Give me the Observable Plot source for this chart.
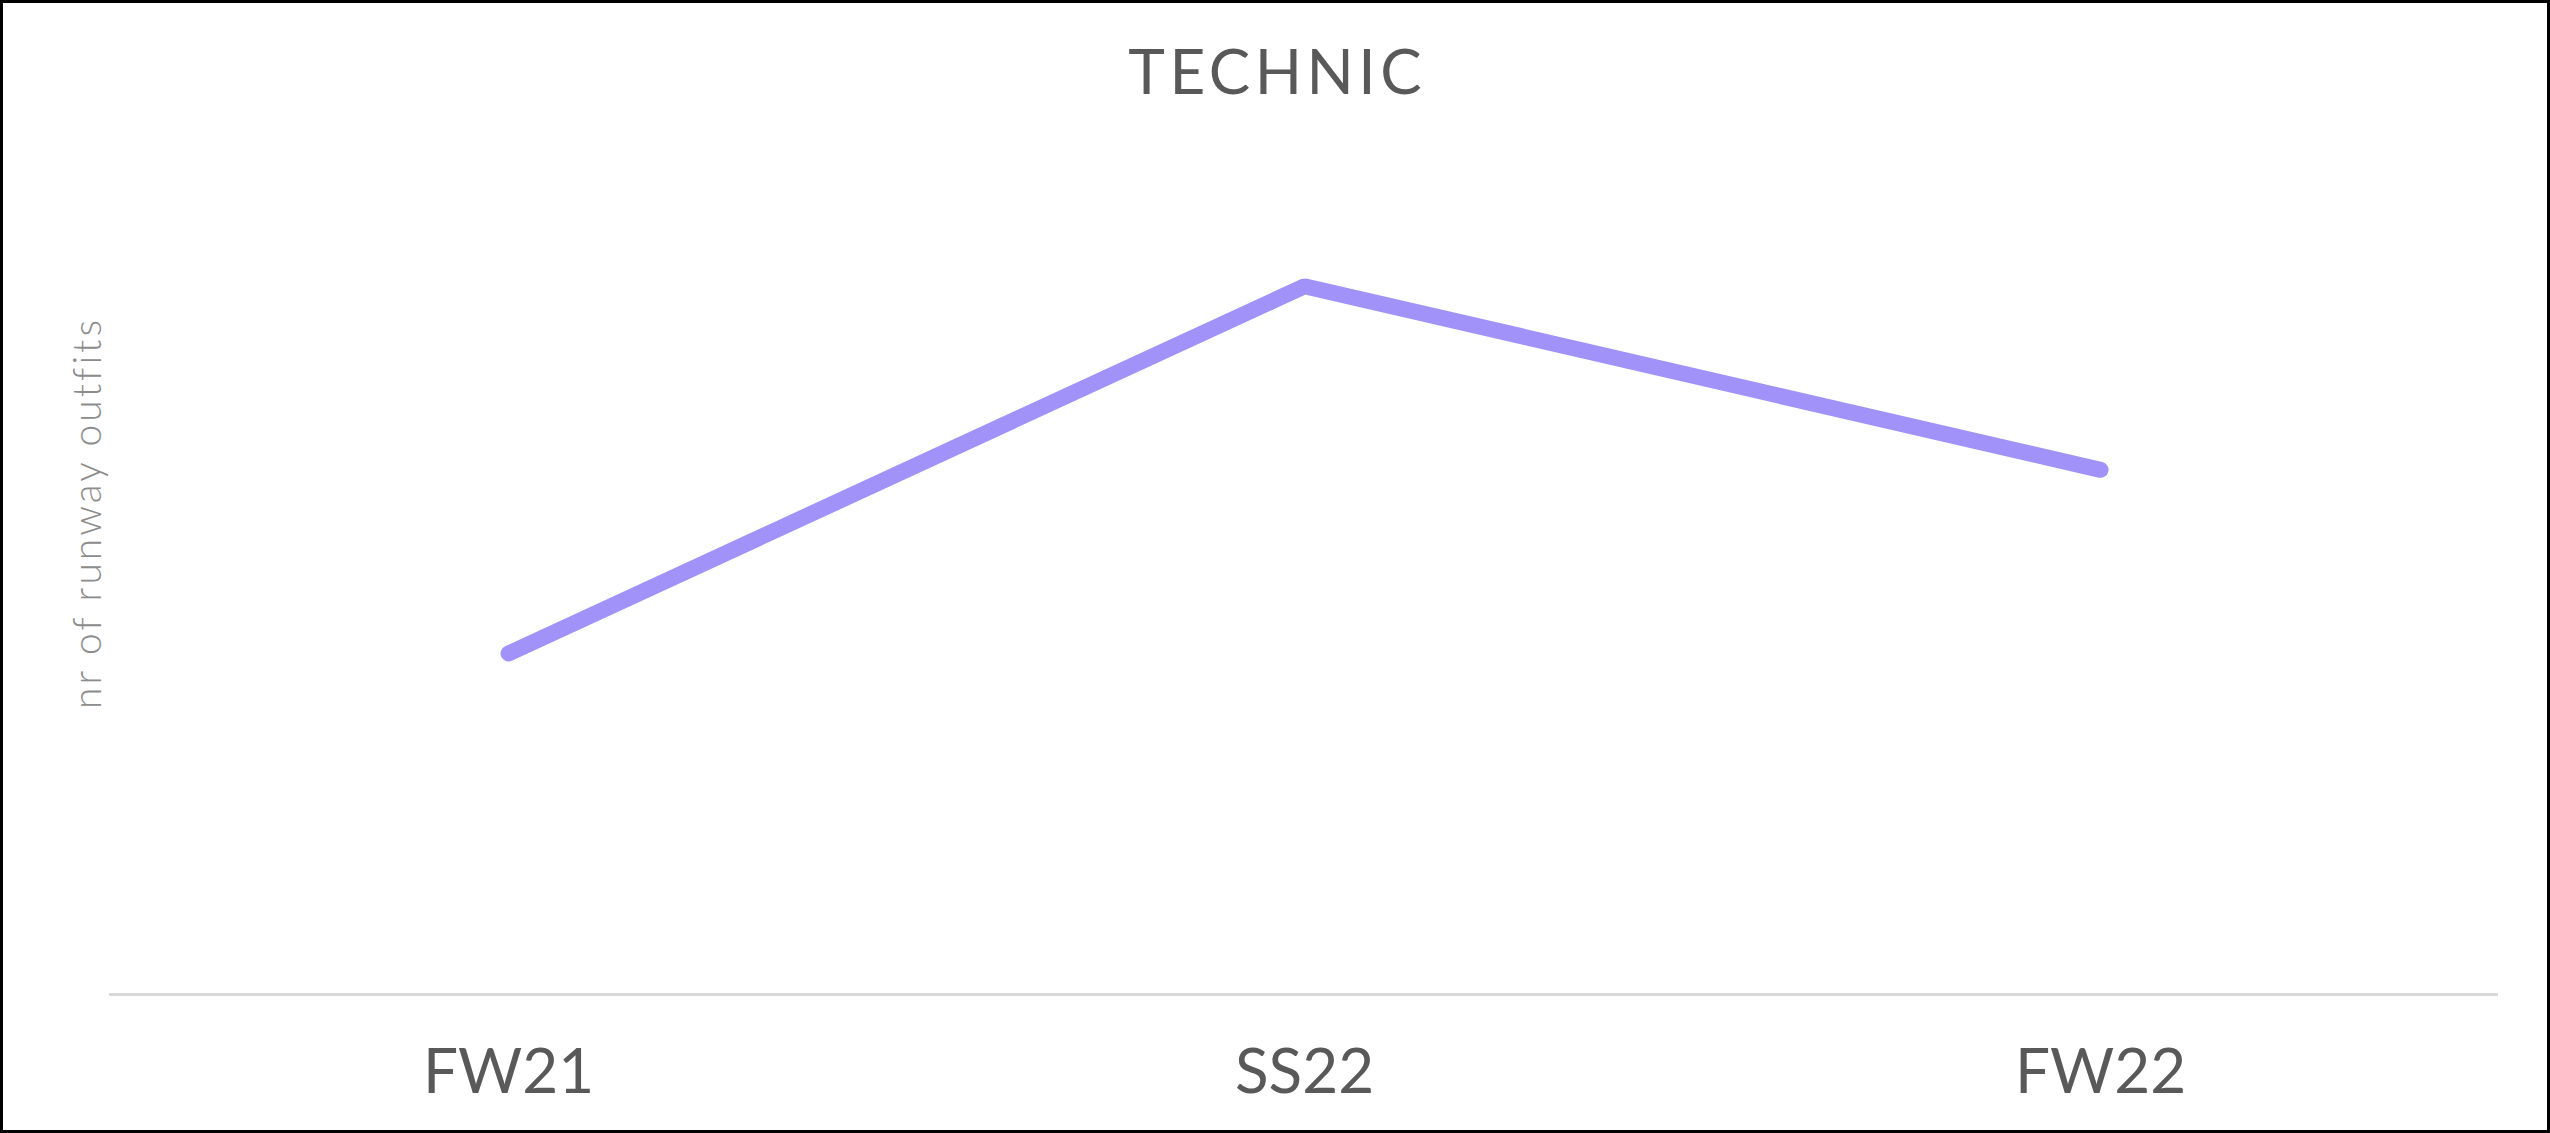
<!DOCTYPE html>
<html>
<head>
<meta charset="utf-8">
<script src="https://cdn.jsdelivr.net/npm/d3@7"></script>
<script src="https://cdn.jsdelivr.net/npm/@observablehq/plot@0.6"></script>
<style>
  html, body { margin: 0; padding: 0; background: #fff; }
  #frame {
    box-sizing: border-box;
    width: 2550px; height: 1133px;
    border: 3px solid #000;
    position: relative;
    overflow: hidden;
    font-family: Lato, "Noto Sans", sans-serif;
  }
  #title {
    height: 114px;
    line-height: 134px;
    text-align: center;
    font-size: 62px;
    color: #595959;
    font-weight: 400;
    letter-spacing: 4.5px;
    padding-left: 4.5px;
  }
  #chart svg { display: block; }
</style>
</head>
<body>
<div id="frame">
  <div id="title">TECHNIC</div>
  <div id="chart"></div>
</div>
<script>
const seasons = ["FW21", "SS22", "FW22"];
const outfits = [13, 27, 20];
const yLabel = "nr of runway outfits";

const data = seasons.map((s, i) => ({season: s, value: outfits[i]}));

const plot = Plot.plot({
  width: 2544,
  height: 1013,
  marginTop: 90,
  marginBottom: 136,
  marginLeft: 106,
  marginRight: 49,
  style: {fontFamily: "Lato, 'Noto Sans', sans-serif", background: "#fff"},
  x: {type: "point", domain: seasons, padding: 0.5, label: null},
  y: {domain: [0, 30], axis: null},
  marks: [
    Plot.ruleY([0], {stroke: "#d9d9d9", strokeWidth: 3}),
    Plot.axisX({tickSize: 0, tickPadding: 54, fontSize: 62, color: "#595959", label: null}),
    Plot.line(data, {x: "season", y: "value", stroke: "#a192fa", strokeWidth: 16,
      strokeLinecap: "round", strokeLinejoin: "miter"}),
    Plot.text([yLabel], {frameAnchor: "left", rotate: -90, dx: -21, dy: -88,
      fontSize: 39, fontWeight: 300, fill: "#8c8c8c", textAnchor: "middle", lineAnchor: "middle"})
  ]
});
plot.querySelectorAll("text").forEach(t => {
  if (t.textContent === yLabel) t.setAttribute("letter-spacing", "3px");
});
document.getElementById("chart").appendChild(plot);
</script>
</body>
</html>
